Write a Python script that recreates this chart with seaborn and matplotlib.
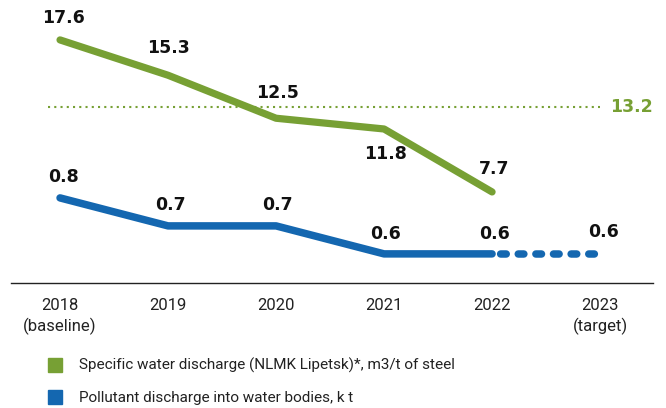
import pandas as pd
import matplotlib.pyplot as plt
from matplotlib.lines import Line2D
import seaborn as sns

# Dados do gráfico
anos = ['2018\n(baseline)', '2019', '2020', '2021', '2022', '2023\n(target)']
descarga_agua = [17.6, 15.3, 12.5, 11.8, 7.7]          # 2018-2022
meta_agua = 13.2                                         # 2023 target
poluentes = [0.8, 0.7, 0.7, 0.6, 0.6, 0.6]             # 2018-2023 (2023 = target)

legenda = ['Specific water discharge (NLMK Lipetsk)*, m3/t of steel',
           'Pollutant discharge into water bodies, k t']

VERDE = '#77A034'
AZUL = '#1467B0'

df_agua = pd.DataFrame({'x': range(len(descarga_agua)), 'valor': descarga_agua})
df_pol = pd.DataFrame({'x': range(len(poluentes)), 'valor': poluentes})

sns.set_theme(style='white')
plt.rcParams['font.family'] = ['Roboto', 'DejaVu Sans']

fig = plt.figure(figsize=(6.66, 4.08), dpi=100)
ax = fig.add_axes([11 / 666, 1 - 283 / 408, 642 / 666, 283 / 408])
ax2 = ax.twinx()

# Linha verde: descarga específica
sns.lineplot(data=df_agua, x='x', y='valor', ax=ax, color=VERDE, linewidth=5.2,
             solid_capstyle='round', solid_joinstyle='round')
ax.hlines(meta_agua, -0.11, len(anos) - 1, color=VERDE, linewidth=1.5,
          linestyles=(0, (1, 2)))

# Linha azul: poluentes (real + meta pontilhada)
sns.lineplot(data=df_pol.iloc[:5], x='x', y='valor', ax=ax2, color=AZUL, linewidth=5.4,
             solid_capstyle='round', solid_joinstyle='round')
ax2.plot(df_pol['x'].iloc[4:], df_pol['valor'].iloc[4:], color=AZUL, linewidth=5.4,
         linestyle=(1.2, (0.75, 1.6)), dash_capstyle='round')

ax.set_xlim(-0.454, 5.49)
ax.set_ylim(1.77, 20.2)
ax2.set_ylim(0.496, 1.507)

# Rótulos de valores
desloc_agua = [(3, 22), (0, 27), (1, 25), (1, -25), (2, 23)]
for i, (v, d) in enumerate(zip(descarga_agua, desloc_agua)):
    ax.annotate(f'{v:.1f}', (i, v), xytext=d, textcoords='offset pixels',
                ha='center', va='center', fontsize=12.5, fontweight='bold',
                family='DejaVu Sans', color='#111111')
ax.annotate(f'{meta_agua:.1f}', (len(anos) - 1, meta_agua), xytext=(31, 0),
            textcoords='offset pixels', ha='center', va='center', fontsize=12.5,
            fontweight='bold', family='DejaVu Sans', color=VERDE)

desloc_pol = [(3, 21), (2, 21), (1, 21), (1, 20), (2, 20), (3, 22)]
for i, (v, d) in enumerate(zip(poluentes, desloc_pol)):
    ax2.annotate(f'{v:.1f}', (i, v), xytext=d, textcoords='offset pixels',
                 ha='center', va='center', fontsize=12.5, fontweight='bold',
                 family='DejaVu Sans', color='#111111')

# Eixos
ax.set_xticks(range(len(anos)))
ax.set_xticklabels(anos, fontsize=12, color='#222222', linespacing=1.3)
ax.tick_params(axis='x', length=0, pad=11)
ax.set_yticks([])
ax2.set_yticks([])
ax.set_xlabel('')
ax.set_ylabel('')
ax2.set_ylabel('')
for a in (ax, ax2):
    for lado in ['top', 'left', 'right', 'bottom']:
        a.spines[lado].set_visible(False)
ax.spines['bottom'].set_visible(True)
ax.spines['bottom'].set_color('#222222')
ax.spines['bottom'].set_linewidth(1.0)

# Legenda
marcas = [Line2D([], [], marker='s', linestyle='', color=VERDE, markersize=10.5),
          Line2D([], [], marker='s', linestyle='', color=AZUL, markersize=10.5)]
fig.legend(marcas, legenda, loc='upper left', bbox_to_anchor=(46 / 666, 1 - 358 / 408),
           frameon=False, fontsize=11, handletextpad=0.95, labelspacing=1.15,
           handlelength=1.2, borderaxespad=0, borderpad=0, labelcolor='#222222')

fig.savefig('out.png', dpi=100)
